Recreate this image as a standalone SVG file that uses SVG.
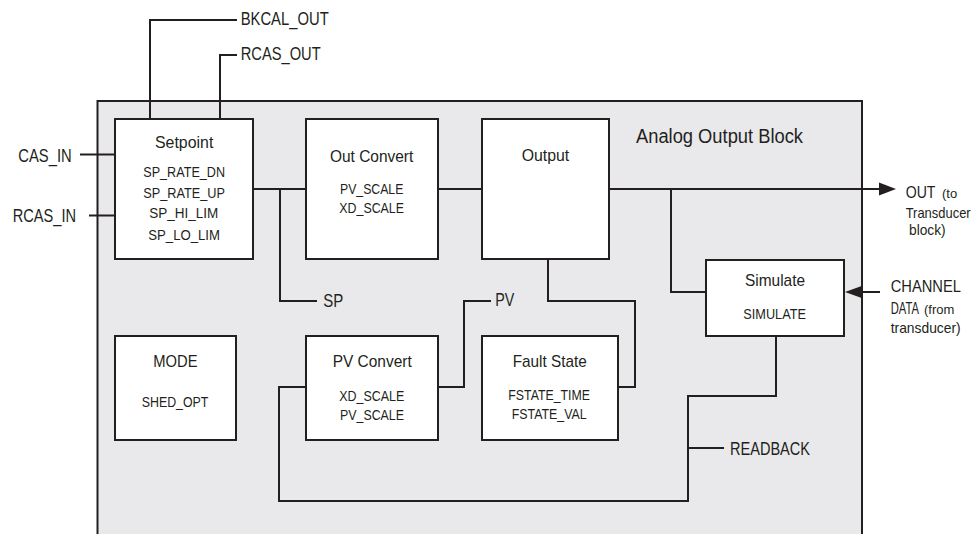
<svg xmlns="http://www.w3.org/2000/svg" width="980" height="534" viewBox="0 0 980 534">
<defs>
<style>
.bg{fill:#ffffff}
.outer{fill:#e9e9eb;stroke:#231f20;stroke-width:2}
.box{fill:#ffffff;stroke:#231f20;stroke-width:2}
.ln{fill:none;stroke:#231f20;stroke-width:2}
.ah{fill:#231f20;stroke:none}
text{font-family:"Liberation Sans Narrow","Liberation Sans",Arial,sans-serif;fill:#231f20}
.t{font-size:17px}
.p{font-size:15px}
.l{font-size:18px}
.s{font-size:13px}
.m{font-size:14.5px}
</style>
</defs>
<rect class="bg" x="0" y="0" width="980" height="534"/>
<g id="analog-output-block">
<rect class="outer" x="97.5" y="101" width="764.5" height="445"/>
<text x="636" y="143.3" textLength="167" lengthAdjust="spacingAndGlyphs" style="font-size:20px">Analog Output Block</text>
</g>
<g id="connectors">
<path class="ln" d="M150,119 V20 H237"/>
<path class="ln" d="M220,119 V55 H237"/>
<path class="ln" d="M80,154.5 H115"/>
<path class="ln" d="M89,215.5 H115"/>
<path class="ln" d="M253,189 H306"/>
<path class="ln" d="M280,189 V301 H317"/>
<path class="ln" d="M438,189 H482"/>
<path class="ln" d="M609,189 H880"/>
<polygon class="ah" points="879,182.5 896,189 879,195.5"/>
<path class="ln" d="M671,189 V292 H706"/>
<path class="ln" d="M880,292 H862"/>
<polygon class="ah" points="863,285.5 845,292 863,298.5"/>
<path class="ln" d="M548,259 V301 H635 V387 H618"/>
<path class="ln" d="M438,387 H464 V301 H491"/>
<path class="ln" d="M776,336 V396 H688 V501 H279 V387 H306"/>
<path class="ln" d="M688,448 H724"/>
</g>
<g id="labels">
<text class="l" x="240.7" y="25" textLength="88" lengthAdjust="spacingAndGlyphs">BKCAL_OUT</text>
<text class="l" x="240.7" y="60" textLength="80" lengthAdjust="spacingAndGlyphs">RCAS_OUT</text>
<text class="l" x="18.3" y="161.7" textLength="53.4" lengthAdjust="spacingAndGlyphs">CAS_IN</text>
<text class="l" x="12.7" y="222.3" textLength="63.3" lengthAdjust="spacingAndGlyphs">RCAS_IN</text>
<text class="l" x="323.3" y="306.7" textLength="20" lengthAdjust="spacingAndGlyphs">SP</text>
<text class="l" x="495.3" y="306" textLength="19" lengthAdjust="spacingAndGlyphs">PV</text>
<text class="l" x="730" y="455" textLength="80" lengthAdjust="spacingAndGlyphs">READBACK</text>
<text class="t" transform="translate(905.7 198) scale(0.83 1)">OUT</text>
<text class="s" x="942" y="198">(to</text>
<text class="m" x="905.7" y="218.3" textLength="65" lengthAdjust="spacingAndGlyphs">Transducer</text>
<text class="m" x="909" y="235" textLength="36.7" lengthAdjust="spacingAndGlyphs">block)</text>
<text class="t" x="890.7" y="292.3" textLength="70.3" lengthAdjust="spacingAndGlyphs">CHANNEL</text>
<text class="t" transform="translate(890.7 314) scale(0.66 1)">DATA</text>
<text class="s" x="924" y="314">(from</text>
<text class="m" x="890.7" y="332.7" textLength="70" lengthAdjust="spacingAndGlyphs">transducer)</text>
</g>
<g id="setpoint">
<rect class="box" x="115" y="119" width="138" height="140"/>
<text class="t" x="155" y="147.7" textLength="58.3" lengthAdjust="spacingAndGlyphs">Setpoint</text>
<text class="p" x="143.3" y="176.7" textLength="81.7" lengthAdjust="spacingAndGlyphs">SP_RATE_DN</text>
<text class="p" x="143.3" y="197.7" textLength="81.7" lengthAdjust="spacingAndGlyphs">SP_RATE_UP</text>
<text class="p" x="149.3" y="218.3" textLength="69" lengthAdjust="spacingAndGlyphs">SP_HI_LIM</text>
<text class="p" x="148.3" y="240" textLength="71.7" lengthAdjust="spacingAndGlyphs">SP_LO_LIM</text>
</g>
<g id="out-convert">
<rect class="box" x="306" y="119" width="132" height="140"/>
<text class="t" x="330" y="161.7" textLength="83.3" lengthAdjust="spacingAndGlyphs">Out Convert</text>
<text class="p" x="340" y="194.3" textLength="63.3" lengthAdjust="spacingAndGlyphs">PV_SCALE</text>
<text class="p" x="339.3" y="213.3" textLength="64.7" lengthAdjust="spacingAndGlyphs">XD_SCALE</text>
</g>
<g id="output">
<rect class="box" x="482" y="119" width="127" height="140"/>
<text class="t" x="521.7" y="161" textLength="47.6" lengthAdjust="spacingAndGlyphs">Output</text>
</g>
<g id="simulate">
<rect class="box" x="706" y="260" width="138" height="76"/>
<text class="t" x="745" y="286" textLength="60" lengthAdjust="spacingAndGlyphs">Simulate</text>
<text class="p" x="743.3" y="319.3" textLength="62.7" lengthAdjust="spacingAndGlyphs">SIMULATE</text>
</g>
<g id="mode">
<rect class="box" x="115" y="336" width="121" height="104"/>
<text class="t" x="153.3" y="367.3" textLength="44.3" lengthAdjust="spacingAndGlyphs">MODE</text>
<text class="p" x="141.7" y="407.3" textLength="66.7" lengthAdjust="spacingAndGlyphs">SHED_OPT</text>
</g>
<g id="pv-convert">
<rect class="box" x="306" y="336" width="132" height="104"/>
<text class="t" x="332.7" y="367.3" textLength="79" lengthAdjust="spacingAndGlyphs">PV Convert</text>
<text class="p" x="339.3" y="400.7" textLength="65" lengthAdjust="spacingAndGlyphs">XD_SCALE</text>
<text class="p" x="340" y="420" textLength="64" lengthAdjust="spacingAndGlyphs">PV_SCALE</text>
</g>
<g id="fault-state">
<rect class="box" x="482" y="336" width="136" height="104"/>
<text class="t" x="512.7" y="367.3" textLength="74" lengthAdjust="spacingAndGlyphs">Fault State</text>
<text class="p" x="508.3" y="400" textLength="81.7" lengthAdjust="spacingAndGlyphs">FSTATE_TIME</text>
<text class="p" x="511.7" y="419.3" textLength="75" lengthAdjust="spacingAndGlyphs">FSTATE_VAL</text>
</g>
</svg>
